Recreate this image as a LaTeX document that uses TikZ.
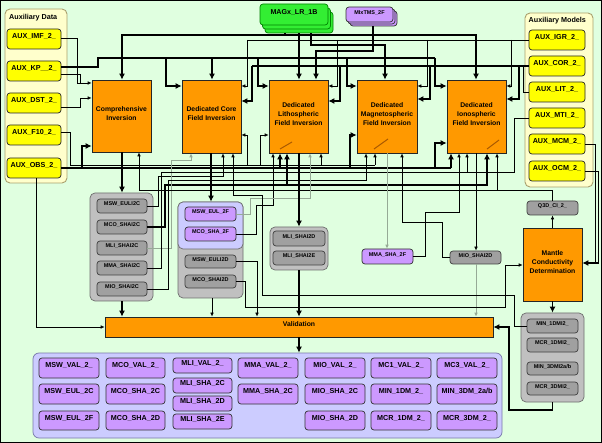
\documentclass[tikz,border=0pt]{standalone}
\usepackage{fontspec}
\setmainfont{Liberation Sans}
\usetikzlibrary{arrows.meta,fit}
\definecolor{bg}{RGB}{224,255,224}
\definecolor{orangeF}{RGB}{255,153,0}
\definecolor{yelbox}{RGB}{255,255,0}
\definecolor{yelpanel}{RGB}{255,255,204}
\definecolor{yelborder}{RGB}{170,160,110}
\definecolor{grayitem}{RGB}{160,160,160}
\definecolor{graypanel}{RGB}{192,192,192}
\definecolor{grayborder}{RGB}{110,110,110}
\definecolor{purpitem}{RGB}{204,153,255}
\definecolor{lavpanel}{RGB}{204,204,255}
\definecolor{lavborder}{RGB}{120,120,170}
\definecolor{greenF}{RGB}{51,238,51}
\definecolor{greenB}{RGB}{0,130,0}
\definecolor{wiregray}{RGB}{150,170,150}
\definecolor{tagbrown}{RGB}{170,90,0}
\tikzset{
  bx/.style={rounded corners=3pt, draw=black!85, line width=0.7pt, inner sep=0pt, align=center},
  yel/.style={bx, fill=yelbox, font=\bfseries\fontsize{7.2}{8}\selectfont},
  ypanel/.style={bx, fill=yelpanel, draw=yelborder, line width=0.9pt, rounded corners=5pt},
  ttl/.style={font=\bfseries\fontsize{7.2}{8}\selectfont, inner sep=0pt},
  org/.style={draw=black!85, line width=0.7pt, fill=orangeF, inner sep=0pt, align=center, font=\bfseries\fontsize{6.8}{9}\selectfont},
  gitem/.style={bx, fill=grayitem, draw=black!75, font=\bfseries\fontsize{5.5}{6}\selectfont},
  gpanel/.style={bx, fill=graypanel, draw=grayborder, rounded corners=5pt},
  pitem/.style={bx, fill=purpitem, draw=black!80, font=\bfseries\fontsize{7.2}{8}\selectfont},
  psmall/.style={pitem, font=\bfseries\fontsize{5.5}{6}\selectfont},
  lpanel/.style={bx, fill=lavpanel, draw=lavborder, rounded corners=6pt},
  grn/.style={bx, fill=greenF, draw=greenB, font=\bfseries\fontsize{7.1}{8}\selectfont},
  wn/.style={line width=0.7pt},
  wk/.style={line width=1.8pt},
  wg/.style={line width=0.9pt, draw=wiregray},
  ar/.style={-{Latex[length=4pt,width=3.6pt]}},
  ark/.style={-{Latex[length=6pt,width=6pt]}},
  tagline/.style={draw=tagbrown, line width=1pt}
}
\begin{document}
\begin{tikzpicture}[x=1pt,y=-1pt]
\useasboundingbox (0,0) rectangle (602,443);
\fill[bg] (0,0) rectangle (602,443);
\draw[line width=1pt] (0.5,0.5) rectangle (601.5,442.5);

% ---------- Auxiliary data
\node[ypanel, fit={(5,9) (67,183)}] (auxd) {};
\node[ttl, anchor=west] (auxdt) at (9,17.5) {Auxiliary Data};
\node[yel, fit={(7,29) (61,49)}] (imf) {AUX\_IMF\_2\_};
\node[yel, fit={(7,61) (61,81)}] (kp) {AUX\_KP\_\_2\_};
\node[yel, fit={(7,93) (61,113)}] (dst) {AUX\_DST\_2\_};
\node[yel, fit={(7,125) (61,145)}] (f10) {AUX\_F10\_2\_};
\node[yel, fit={(7,158) (61,178)}] (obs) {AUX\_OBS\_2\_};

% ---------- Auxiliary models
\node[ypanel, fit={(525,13) (593,187)}] (auxm) {};
\node[ttl, anchor=west] (auxmt) at (528.5,21) {Auxiliary Models};
\node[yel, fit={(529,30) (585,50)}] (igr) {AUX\_IGR\_2\_};
\node[yel, fit={(529,56) (585,76)}] (cor) {AUX\_COR\_2\_};
\node[yel, fit={(529,82) (585,102)}] (lit) {AUX\_LIT\_2\_};
\node[yel, fit={(529,108) (585,128)}] (mti) {AUX\_MTI\_2\_};
\node[yel, fit={(529,134) (585,154)}] (mcm) {AUX\_MCM\_2\_};
\node[yel, fit={(529,161) (585,181)}] (ocm) {AUX\_OCM\_2\_};

% ---------- Input data stacks
\node[grn, fit={(265,12) (333,33)}] (magx3) {};
\node[grn, fit={(262.5,8) (330.5,29)}] (magx2) {};
\node[grn, fit={(260,4) (328,25)}] (magx) {MAGx\_LR\_1B};
\node[psmall, fit={(350,11) (397,26)}] (mix3) {};
\node[psmall, fit={(348,9) (395,24)}] (mix2) {};
\node[psmall, fit={(346,7) (393,22)}] (mix) {MIxTMS\_2F};

% ---------- Processors
\node[org, fit={(92,80) (151,152)}] (ci) {Comprehensive\\Inversion};
\node[org, fit={(182,80) (241,153)}] (core) {Dedicated Core\\Field Inversion};
\node[org, fit={(269,80) (328,153)}] (lith) {Dedicated\\Lithospheric\\Field Inversion};
\node[org, fit={(357,80) (417,153)}] (mag) {Dedicated\\Magnetospheric\\Field Inversion};
\node[org, fit={(447,80) (506,153)}] (ion) {Dedicated\\Ionospheric\\Field Inversion};
\node[org, fit={(523,228) (582,301)}] (mcd) {Mantle\\Conductivity\\Determination};
\node[org, fit={(105,317) (493,337)}] (val) {Validation};
\draw[tagline] (280,149) -- (292,142);
\draw[tagline] (374,149) -- (388,139);
\draw[tagline] (487,149) -- (499,140);

% ---------- CI products
\node[gpanel, fit={(90,193) (153,301)}] (cigrp) {};
\node[gitem, fit={(97,199) (147,213)}] (msweulc) {MSW\_EULI2C};
\node[gitem, fit={(97,220) (147,234)}] (mcoshac) {MCO\_SHAI2C};
\node[gitem, fit={(97,241) (147,255)}] (mlishac) {MLI\_SHAI2C};
\node[gitem, fit={(97,261) (147,275)}] (mmashac) {MMA\_SHAI2C};
\node[gitem, fit={(97,282) (147,296)}] (mioshac) {MIO\_SHAI2C};

% ---------- Core products
\node[gpanel, fit={(178,202) (243,298)}] (cogrp) {};
\node[lpanel, draw=grayborder, rounded corners=5pt, fit={(178,202) (243,249)}] (cogrpt) {};
\node[psmall, fit={(185,207) (236,221)}] (msweulf) {MSW\_EUL\_2F};
\node[psmall, fit={(185,227) (236,241)}] (mcoshaf) {MCO\_SHA\_2F};
\node[gitem, fit={(185,255) (236,268)}] (msweuld) {MSW\_EULI2D};
\node[gitem, fit={(185,275) (236,288)}] (mcoshad) {MCO\_SHAI2D};

% ---------- Litho products
\node[gpanel, fit={(270,227) (328,270)}] (ligrp) {};
\node[gitem, fit={(273,231) (325,246)}] (mlishad) {MLI\_SHAI2D};
\node[gitem, fit={(273,251) (325,265)}] (mlishae) {MLI\_SHAI2E};

\node[psmall, fit={(362,249) (413,264)}] (mmashaf) {MMA\_SHA\_2F};
\node[gitem, fit={(450,251) (501,264)}] (mioshad) {MIO\_SHAI2D};
\node[gitem, fit={(527,201) (578,215)}] (q3d) {Q3D\_CI\_2\_};

% ---------- Mantle products
\node[gpanel, fit={(521,313) (584,402)}] (mgrp) {};
\node[gitem, fit={(527,319) (578,333)}] (min1) {MIN\_1DMI2\_};
\node[gitem, fit={(527,338) (578,352)}] (mcr1) {MCR\_1DMI2\_};
\node[gitem, fit={(527,362) (578,375)}] (min3) {MIN\_3DMI2a/b};
\node[gitem, fit={(527,382) (578,395)}] (mcr3) {MCR\_3DMI2\_};

% ---------- Validation products
\node[lpanel, fit={(33,353) (502,438)}] (bpan) {};
\node[pitem, fit={(39,358) (99,378)}] (v11) {MSW\_VAL\_2\_};
\node[pitem, fit={(39,384) (99,404)}] (v12) {MSW\_EUL\_2C};
\node[pitem, fit={(39,411) (99,430)}] (v13) {MSW\_EUL\_2F};
\node[pitem, fit={(106,358) (165,378)}] (v21) {MCO\_VAL\_2\_};
\node[pitem, fit={(106,384) (165,404)}] (v22) {MCO\_SHA\_2C};
\node[pitem, fit={(106,411) (165,430)}] (v23) {MCO\_SHA\_2D};
\node[pitem, fit={(173,358) (232,373)}] (v31) {MLI\_VAL\_2\_};
\node[pitem, fit={(173,378) (232,393)}] (v32) {MLI\_SHA\_2C};
\node[pitem, fit={(173,396) (232,411)}] (v33) {MLI\_SHA\_2D};
\node[pitem, fit={(173,414) (232,429)}] (v34) {MLI\_SHA\_2E};
\node[pitem, fit={(238,358) (298,378)}] (v41) {MMA\_VAL\_2\_};
\node[pitem, fit={(238,384) (298,404)}] (v42) {MMA\_SHA\_2C};
\node[pitem, fit={(305,358) (365,378)}] (v51) {MIO\_VAL\_2\_};
\node[pitem, fit={(305,384) (365,404)}] (v52) {MIO\_SHA\_2C};
\node[pitem, fit={(305,411) (365,430)}] (v53) {MIO\_SHA\_2D};
\node[pitem, fit={(371,358) (431,378)}] (v61) {MC1\_VAL\_2\_};
\node[pitem, fit={(371,384) (431,404)}] (v62) {MIN\_1DM\_2\_};
\node[pitem, fit={(371,411) (431,430)}] (v63) {MCR\_1DM\_2\_};
\node[pitem, fit={(437,358) (497,378)}] (v71) {MC3\_VAL\_2\_};
\node[pitem, fit={(437,384) (497,404)}] (v72) {MIN\_3DM\_2a/b};
\node[pitem, fit={(437,411) (497,430)}] (v73) {MCR\_3DM\_2\_};

% ================= connectors =================
% MAGx and MIxTMS
\draw[wk, {Latex[length=6pt,width=6pt]}-{Latex[length=6pt,width=6pt]}] (ci.north -| 122,0) -- (122,35) -- (476,35) -- (ion.north -| 476,0);
\draw[wk] (magx3.south -| 285,0) -- (285,35);
\draw[wk, ark] (magx3.south -| 299,0) -- (lith.north -| 299,0);
\draw[wk, ark] (magx3.south -| 311,0) -- (311,45) -- (385,45) -- (mag.north -| 385,0);
\draw[wk, ark] (mix3.south -| 373,0) -- (373,51) -- (316,51) -- (lith.north -| 316,0);

% KP thick bus
\draw[wk] (kp.east |- 0,67) -- (98,67) -- (98,58) -- (435,58);
\draw[wk, ark] (166,58) -- (166,86) -- (core.west |- 0,86);
\draw[wk, ark] (212,58) -- (core.north -| 212,0);
\draw[wk, ark] (258,58) -- (258,86) -- (lith.west |- 0,86);
\draw[wk, ark] (347,58) -- (347,86) -- (mag.west |- 0,86);
\draw[wk, ark] (435,58) -- (435,86) -- (ion.west |- 0,86);

% thin aux data
\draw[wn, ar] (imf.east |- 0,38) -- (77,38) -- (77,83) -- (ci.west |- 0,83);
\draw[wn] (kp.east |- 0,74) -- (80,74) -- (80,83);
\draw[wn, ar] (dst.east |- 0,107) -- (80,107) -- (80,98) -- (ci.west |- 0,98);

% F10 bus
\draw[wn] (f10.east |- 0,132) -- (70,132) -- (70,165) -- (375,165);
\draw[wn, ar] (375,165) -- (mag.south -| 375,0);
\draw[wn, ar] (321,165) -- (lith.south -| 321,0);
\draw[wn, ar] (247,165) -- (247,135) -- (core.east |- 0,135);
\draw[wn, ar] (260,165) -- (260,135) -- (lith.west |- 0,135);

% OBS bus
\draw[wk] (obs.east) -- (451,168);
\draw[wk, ark] (82,168) -- (82,146) -- (ci.west |- 0,146);
\draw[wk, ark] (280,168) -- (lith.south -| 280,0);
\draw[wk, ark] (350,168) -- (350,135) -- (mag.west |- 0,135);
\draw[wk, ark] (435,168) -- (435,143) -- (ion.west |- 0,143);
\draw[wk, ark] (451,168) -- (ion.south -| 451,0);
\draw[wn, ar] (obs.south -| 36,0) -- (36,327) -- (val.west |- 0,327);

% COR bus
\draw[wk] (cor.west) -- (252,66);
\draw[wk, ark] (519,66) -- (519,99) -- (ion.east |- 0,99);
\draw[wk, ark] (430,66) -- (430,99) -- (mag.east |- 0,99);
\draw[wk, ark] (340,66) -- (340,101) -- (lith.east |- 0,101);
\draw[wk, ark] (252,66) -- (252,101) -- (core.east |- 0,101);
\draw[wn] (lit.west) -- (523,92) -- (523,66);

% IGR bus
\draw[wn] (igr.west) -- (247,40);
\draw[wn, ar] (511,40) -- (511,86) -- (ion.east |- 0,86);
\draw[wn, ar] (427,40) -- (427,86) -- (mag.east |- 0,86);
\draw[wn, ar] (337,40) -- (337,86) -- (lith.east |- 0,86);
\draw[wn, ar] (247,40) -- (247,86) -- (core.east |- 0,86);

% MTI, MCM, OCM
\draw[wn] (mti.west) -- (514,118) -- (514,172) -- (467,172);
\draw[wn] (mcm.east) -- (595,144) -- (595,263);
\draw[wn] (ocm.east) -- (598.5,171) -- (598.5,186);
\draw[wk, ark] (598.5,185) -- (598.5,263) -- (mcd.east |- 0,263);

% CI products feeding other inversions
\draw[wn, ar] (msweulc.east) -- (158,206) -- (158,176) -- (223,176) -- (core.south -| 223,0);
\draw[wk, ark] (mcoshac.east) -- (165,227) -- (165,185) -- (487,185) -- (ion.south -| 487,0);
\draw[wk, ark] (287,185) -- (lith.south -| 287,0);
\draw[wg, ar] (mlishac.east) -- (171,248) -- (171,160) -- (191,160) -- (core.south -| 191,0);
\draw[wn, ar] (mmashac.east) -- (161,268) -- (161,172) -- (467,172) -- (ion.south -| 467,0);
\draw[wn, ar] (mioshac.east) -- (168,289) -- (168,180) -- (366,180) -- (mag.south -| 366,0);

% Q3D
\draw[wn, ar] (q3d.north) -- (q3d.north |- 0,190) -- (139,190) -- (ci.south -| 139,0);
\draw[wn, ar] (497,190) -- (ion.south -| 497,0);

% core products
\draw[wn, ar] (mcoshaf.east) -- (256,234) -- (256,205) -- (273,205) -- (lith.south -| 273,0);
\draw[wg, ar] (msweulf.east) -- (250,214) -- (250,198) -- (310,198) -- (lith.south -| 310,0);

% other products
\draw[wn, ar] (mioshad.west) -- (442,257.5) -- (442,222) -- (402,222) -- (mag.south -| 402,0);
\draw[wn, ar] (mmashaf.east) -- (425,256.5) -- (425,212) -- (459,212) -- (ion.south -| 459,0);
\draw[wg, ar] (mag.south -| 387,0) -- (mmashaf.north -| 387,0);
\draw[wn, ar] (ion.south -| 476,0) -- (mioshad.north -| 476,0);
\draw[wg, ar] (mioshad.south -| 476,0) -- (val.north -| 476,0);

% outputs
\draw[wk, ark] (ci.south -| 122,0) -- (cigrp.north -| 122,0);
\draw[wk, ark] (core.south -| 211,0) -- (cogrp.north -| 211,0);
\draw[wk, ark] (lith.south -| 299,0) -- (ligrp.north -| 299,0);
\draw[wk, ark] (cigrp.south -| 122,0) -- (val.north -| 122,0);
\draw[wk, ark] (ligrp.south -| 299,0) -- (val.north -| 299,0);
\draw[wn, ar] (cogrp.south -| 212,0) -- (val.north -| 212,0);
\draw[wn, ar] (msweuld.east) -- (257,261.5) -- (val.north -| 257,0);
\draw[wn, ar] (mcoshad.east) -- (245,281.5) -- (245,307) -- (505,307) -- (505,265) -- (mcd.west |- 0,265);
\draw[wn, ar] (min1.west) -- (514,326) -- (514,295) -- (262,295) -- (262,195) -- (233,195) -- (core.south -| 233,0);

% mantle
\draw[wk, ark] (mcd.south) -- (mgrp.north);
\draw[wn, ar] (mcd.north) -- (q3d.south);
\draw[wk, ark] (mgrp.south) -- (mgrp.south |- 0,410) -- (509,410) -- (509,327) -- (val.east |- 0,327);

% validation to products
\draw[wk, ark] (val.south -| 299,0) -- (bpan.north -| 299,0);
\end{tikzpicture}
\end{document}
